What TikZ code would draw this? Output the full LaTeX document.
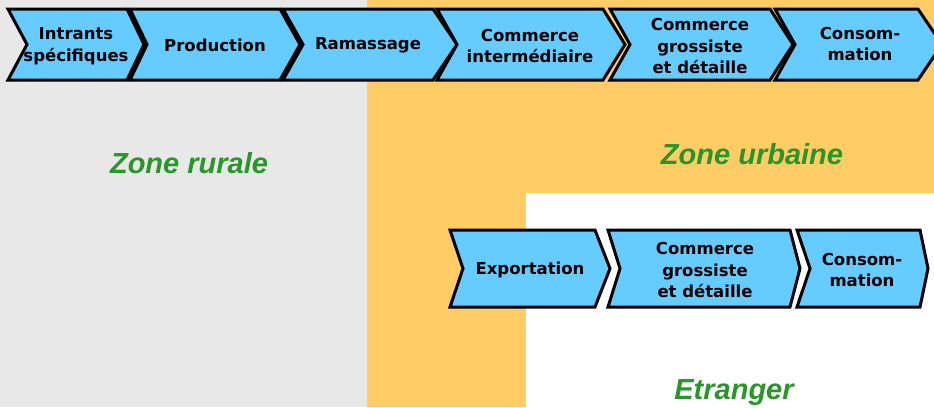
\documentclass[tikz,border=0pt]{standalone}
\usepackage{fontspec}
\setmainfont{DejaVu Sans}
\newfontfamily\labfont{Liberation Sans}
\definecolor{grayzone}{RGB}{232,232,232}
\definecolor{orangezone}{RGB}{255,204,102}
\definecolor{chevblue}{RGB}{102,204,255}
\definecolor{labgreen}{RGB}{40,150,40}
\newcommand\mychev[7]{%
  \draw[chev] (#1,#5) -- (#3,#5) -- (#4,{(#5+#6)/2}) -- (#3,#6) -- (#1,#6) -- (#2,{(#5+#6)/2}) -- cycle;
  \coordinate (#7) at ({(#1+#3)/2},{(#5+#6)/2});}
\begin{document}
\begin{tikzpicture}[x=1pt,y=-1pt,
  chev/.style={draw=black,line width=3pt,fill=chevblue,line join=miter},
  chevtext/.style={align=center,font=\fontsize{16.5}{21.5}\selectfont\bfseries,text=black,inner sep=0pt},
  zonelab/.style={font=\labfont\fontsize{29}{32}\selectfont\bfseries\itshape,text=labgreen,anchor=base,inner sep=0pt}]
\useasboundingbox (0,0) rectangle (934,407);
\clip (0,0) rectangle (934,407);
% backgrounds
\fill[grayzone] (0,0) rectangle (367,407);
\fill[orangezone] (367,0) rectangle (934,407);
\fill[white] (526,193) rectangle (934,407);
% top row
\mychev{8}{27}{127}{144}{9}{80}{c1}
\mychev{130}{147}{280}{300}{9}{80}{c2}
\mychev{283}{303}{433}{457}{9}{80}{c3}
\mychev{437}{457}{603}{625}{9}{80}{c4}
\mychev{610}{630}{770}{793}{9}{80}{c5}
\mychev{775}{795}{918}{942}{9}{80}{c6}
% bottom row
\mychev{450}{463}{595}{610}{230}{307}{d1}
\mychev{608}{620}{790}{800}{230}{307}{d2}
\mychev{797}{810}{920}{928}{230}{307}{d3}
% texts
\node[chevtext] (t1) at (76,46) {Intrants\\spécifiques};
\node[chevtext] (t2) at (215,45) {Production};
\node[chevtext] (t3) at (368,45) {Ramassage};
\node[chevtext] (t4) at (530,46) {Commerce\\intermédiaire};
\node[chevtext] (t5) at (700,46) {Commerce\\grossiste\\et détaille};
\node[chevtext] (t6) at (860,44) {Consom-\\mation};
\node[chevtext] (u1) at (530,270) {Exportation};
\node[chevtext] (u2) at (705,270) {Commerce\\grossiste\\et détaille};
\node[chevtext] (u3) at (862,270) {Consom-\\mation};
% zone labels
\node[zonelab] (zr) at (189,173) {Zone rurale};
\node[zonelab] (zu) at (752,164) {Zone urbaine};
\node[zonelab] (ze) at (734,399) {Etranger};
\end{tikzpicture}
\end{document}
